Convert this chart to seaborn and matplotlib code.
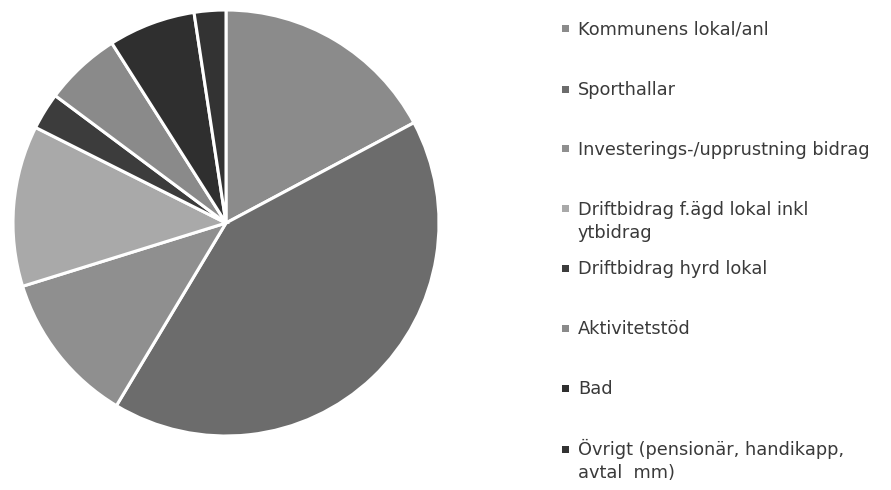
import matplotlib
matplotlib.use("Agg")
import matplotlib.pyplot as plt
import seaborn as sns
from matplotlib.patches import Rectangle

categories = [
    "Kommunens lokal/anl",
    "Sporthallar",
    "Investerings-/upprustning bidrag",
    "Driftbidrag f.ägd lokal inkl\nytbidrag",
    "Driftbidrag hyrd lokal",
    "Aktivitetstöd",
    "Bad",
    "Övrigt (pensionär, handikapp,\navtal  mm)",
]
values = [17.2, 41.4, 11.6, 12.2, 2.8, 5.8, 6.6, 2.4]
colors = ["#8b8b8b", "#6c6c6c", "#8f8f8f", "#a9a9a9", "#3c3c3c", "#8a8a8a", "#2f2f2f", "#333333"]

sns.set_theme(style="white")
plt.rcParams['font.family'] = ['DejaVu Sans']

W, H = 891, 490
fig = plt.figure(figsize=(W / 100, H / 100), dpi=100)
fig.patch.set_facecolor("white")

cx, cy, r = 226, 223, 213
ax = fig.add_axes([(cx - r) / W, (H - cy - r) / H, 2 * r / W, 2 * r / H])
ax.pie(values, colors=colors, startangle=90, counterclock=False,
       wedgeprops=dict(edgecolor="white", linewidth=2.2))
ax.set_xlim(-1, 1)
ax.set_ylim(-1, 1)
ax.axis("off")

# legend (manual, entries aligned to their first line)
ys = [29, 89, 149, 209, 268, 328, 388, 449]
mx, tx = 565, 578
for lab, col, y in zip(categories, colors, ys):
    fig.patches.append(Rectangle(((mx - 3.5) / W, (H - y - 3.5) / H), 7 / W, 7 / H,
                                 transform=fig.transFigure, facecolor=col,
                                 edgecolor="none", figure=fig))
    for i, line in enumerate(lab.split("\n")):
        fig.text(tx / W, (H - (y + 6 + 23 * i)) / H, line, fontsize=12.8,
                 color="#3a3a3a", va="baseline", ha="left",
                 transform=fig.transFigure)

fig.savefig("out.png", dpi=100, facecolor="white")
